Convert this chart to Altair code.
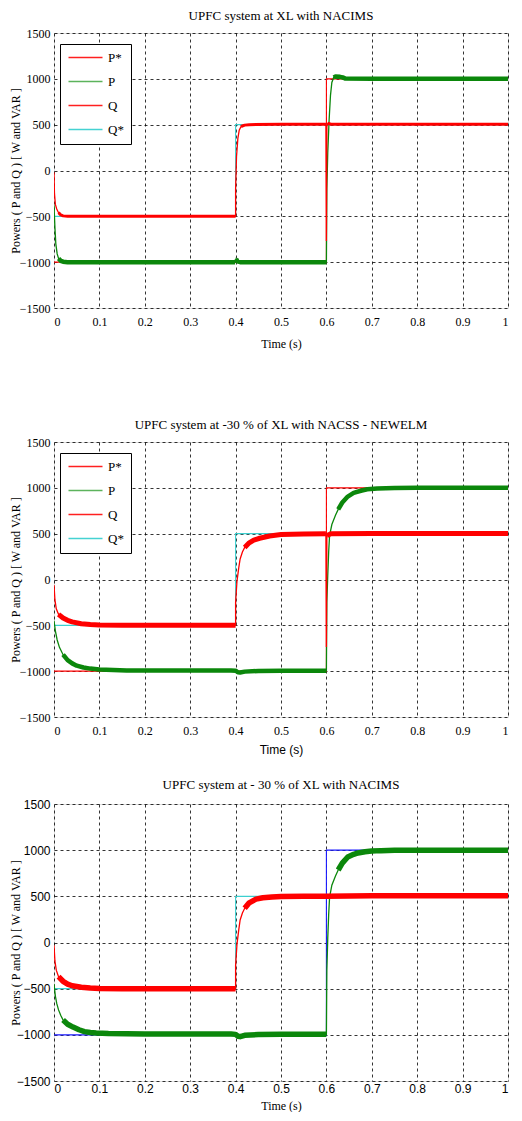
import altair as alt
import pandas as pd

# ---------------- data ----------------
X_TICKS = [0, 0.1, 0.2, 0.3, 0.4, 0.5, 0.6, 0.7, 0.8, 0.9, 1.0]
Y_TICKS = [-1500, -1000, -500, 0, 500, 1000, 1500]
SERIES = ["P*", "P", "Q", "Q*"]

TITLES = [
    "UPFC system at XL with NACIMS",
    "UPFC system at -30 % of XL with NACSS - NEWELM",
    "UPFC system at - 30 % of XL with NACIMS",
]
X_TITLE = "Time (s)"
Y_TITLE = "Powers ( P and Q ) [ W and VAR ]"

# reference steps (same in all panels)
PREF_T = [0, 0.6, 0.6, 1.0]
PREF_V = [-1000, -1000, 1000, 1000]
QREF_T = [0, 0.4, 0.4, 1.0]
QREF_V = [-500, -500, 500, 500]

# panel 1 : XL with NACIMS
P1_T = [0, 0.002, 0.004, 0.007, 0.01, 0.015, 0.02, 0.03, 0.1, 0.2, 0.3, 0.399, 0.401, 0.404, 0.41, 0.5,
        0.6, 0.601, 0.603, 0.606, 0.609, 0.612, 0.616, 0.62, 0.63, 0.636, 0.642, 0.7, 0.8, 0.9, 1.0]
P1_V = [-380, -620, -800, -910, -960, -985, -995, -1000, -1000, -1000, -1000, -1000, -965, -992, -1000, -1000,
        -1000, -200, 200, 550, 820, 960, 1015, 1025, 1022, 1015, 1003, 1000, 1000, 1000, 1000]
Q1_T = [0, 0.001, 0.003, 0.006, 0.01, 0.015, 0.02, 0.03, 0.1, 0.2, 0.3, 0.4, 0.4, 0.402, 0.405, 0.408,
        0.412, 0.42, 0.43, 0.5, 0.599, 0.6, 0.601, 0.603, 0.61, 0.7, 0.8, 0.9, 1.0]
Q1_V = [-20, -250, -370, -420, -460, -485, -495, -500, -500, -500, -500, -500, -200, 150, 350, 440,
        480, 495, 500, 505, 505, -770, 480, 515, 505, 505, 505, 505, 505]

# panel 2 : -30 % of XL with NACSS - NEWELM
P2_T = [0, 0.003, 0.007, 0.012, 0.02, 0.03, 0.04, 0.05, 0.065, 0.08, 0.1, 0.13, 0.16, 0.2, 0.3, 0.39,
        0.4, 0.405, 0.41, 0.42, 0.45, 0.5, 0.6, 0.601, 0.603, 0.605, 0.607, 0.612, 0.62, 0.626, 0.635,
        0.647, 0.66, 0.676, 0.69, 0.712, 0.75, 0.8, 0.9, 1.0]
P2_V = [-450, -560, -660, -740, -820, -880, -915, -940, -960, -972, -982, -988, -992, -993, -993, -993,
        -995, -1012, -1015, -1005, -998, -995, -995, -250, 50, 300, 480, 600, 700, 765, 840,
        905, 945, 968, 984, 993, 998, 1000, 1000, 1000]
Q2_T = [0, 0.002, 0.005, 0.01, 0.02, 0.03, 0.04, 0.06, 0.08, 0.1, 0.15, 0.2, 0.3, 0.4, 0.4, 0.403,
        0.407, 0.41, 0.415, 0.42, 0.43, 0.44, 0.453, 0.475, 0.5, 0.55, 0.599, 0.6, 0.601, 0.61, 0.7,
        0.8, 0.9, 1.0]
Q2_V = [-60, -220, -320, -380, -420, -445, -462, -482, -492, -497, -500, -500, -500, -500, -250, -20,
        130, 224, 300, 350, 400, 430, 450, 475, 490, 497, 500, -735, 480, 500, 503,
        503, 503, 503]

# panel 3 : -30 % of XL with NACIMS
P3_T = [0, 0.003, 0.006, 0.01, 0.015, 0.02, 0.03, 0.042, 0.055, 0.067, 0.08, 0.093, 0.12, 0.16, 0.2,
        0.3, 0.39, 0.4, 0.405, 0.41, 0.42, 0.45, 0.5, 0.6, 0.601, 0.603, 0.605, 0.607, 0.612, 0.62,
        0.626, 0.635, 0.647, 0.66, 0.67, 0.685, 0.7, 0.72, 0.75, 0.8, 0.9, 1.0]
P3_V = [-450, -580, -660, -730, -790, -840, -885, -916, -945, -965, -975, -980, -985, -988, -990,
        -992, -992, -995, -1015, -1020, -1005, -997, -995, -995, -300, 50, 300, 490, 620, 720,
        785, 860, 926, 955, 970, 982, 990, 995, 998, 1000, 1000, 1000]
Q3_T = [0, 0.002, 0.005, 0.01, 0.02, 0.03, 0.04, 0.06, 0.08, 0.1, 0.15, 0.2, 0.3, 0.4, 0.4, 0.403,
        0.407, 0.41, 0.415, 0.42, 0.43, 0.445, 0.46, 0.48, 0.5, 0.55, 0.6, 0.7, 0.8, 0.9, 1.0]
Q3_V = [-30, -200, -300, -370, -420, -450, -468, -485, -493, -497, -500, -500, -500, -500, -250, -20,
        140, 244, 320, 370, 430, 470, 485, 494, 498, 500, 502, 505, 505, 505, 505]

# ---------------- styles ----------------
RED = "#ff0000"
GREEN = "#0b870b"
CYAN = "#3ccfcf"
BLUE = "#1a1aff"
LEGEND_COLORS = ["#ff2020", "#5cb35c", "#ff2020", "#45d2d2"]
SERIF = "Liberation Serif"
SANS = "Liberation Sans"
PLOT_W = 454
SLOPE_LIMIT = 9000  # W/s : faster segments are drawn thin (transients)


def line_frame(t, v):
    return pd.DataFrame({"t": t, "v": v, "o": list(range(len(t)))})


def band_frame(t, v):
    """runs of slowly varying segments, drawn thick (noise band)"""
    rows, run = [], 0
    open_run = False
    for i in range(len(t) - 1):
        dt = t[i + 1] - t[i]
        slope = abs(v[i + 1] - v[i]) / dt if dt > 0 else 1e12
        if slope < SLOPE_LIMIT:
            if not open_run:
                run += 1
                rows.append({"t": t[i], "v": v[i], "o": i, "r": run})
                open_run = True
            rows.append({"t": t[i + 1], "v": v[i + 1], "o": i + 1, "r": run})
        else:
            open_run = False
    return pd.DataFrame(rows)


def enc(chart, st):
    x_axis = alt.Axis(values=X_TICKS, format="~g", title=X_TITLE, labelFont=st["xfont"], labelFontSize=12,
                      titleFont=st["xtfont"], titleFontSize=12, titleFontWeight="normal",
                      labelPadding=st["lpad"], titlePadding=st["tpad"], ticks=False, tickSize=0,
                      domain=False, labelFlush=True,
                      grid=True, gridColor="black", gridDash=[3, 3], gridWidth=0.8,
                      labelColor="black", titleColor="black")
    y_axis = alt.Axis(values=Y_TICKS, format="d", title=Y_TITLE, labelFont=st["yfont"], labelFontSize=12,
                      titleFont=SERIF, titleFontSize=12, titleFontWeight="normal",
                      labelPadding=4, titlePadding=2, minExtent=30, maxExtent=30,
                      ticks=False, tickSize=0, domain=False,
                      grid=True, gridColor="black", gridDash=[3, 3], gridWidth=0.8,
                      labelColor="black", titleColor="black")
    return chart.encode(
        x=alt.X("t:Q", scale=alt.Scale(domain=[0, 1], nice=False, zero=False), axis=x_axis),
        y=alt.Y("v:Q", scale=alt.Scale(domain=[-1500, 1500], nice=False, zero=False), axis=y_axis),
    )


def panel(idx, pt, pv, qt, qv, pref_color, p_band, q_band, legend, st, height):
    layers = []
    if legend:
        leg_df = pd.DataFrame({"t": [0.5] * 4, "v": [0] * 4, "series": SERIES})
        layers.append(
            enc(alt.Chart(leg_df).mark_line(clip=True), st).encode(
                color=alt.Color("series:N",
                                scale=alt.Scale(domain=SERIES, range=LEGEND_COLORS),
                                sort=SERIES,
                                legend=alt.Legend(orient="none", legendX=6, legendY=11, title=None,
                                                  symbolType="M-1,0H5.8", symbolSize=100,
                                                  symbolStrokeWidth=1.6, symbolOpacity=1,
                                                  labelOffset=28, labelFont=SERIF, labelFontSize=13,
                                                  labelColor="black", padding=7, rowPadding=10,
                                                  strokeColor="black", fillColor="white"))
            )
        )
    layers.append(enc(alt.Chart(line_frame(PREF_T, PREF_V)).mark_line(
        color=pref_color, strokeWidth=1.1, clip=True), st).encode(order="o:Q"))
    layers.append(enc(alt.Chart(line_frame(QREF_T, QREF_V)).mark_line(
        color=CYAN, strokeWidth=1.1, clip=True), st).encode(order="o:Q"))
    layers.append(enc(alt.Chart(line_frame(pt, pv)).mark_line(
        color=GREEN, strokeWidth=1.3, clip=True), st).encode(order="o:Q"))
    layers.append(enc(alt.Chart(band_frame(pt, pv)).mark_line(
        color=GREEN, strokeWidth=p_band, strokeCap="butt", strokeJoin="round", clip=True), st)
                  .encode(order="o:Q", detail="r:N"))
    layers.append(enc(alt.Chart(line_frame(qt, qv)).mark_line(
        color=RED, strokeWidth=1.3, clip=True), st).encode(order="o:Q"))
    layers.append(enc(alt.Chart(band_frame(qt, qv)).mark_line(
        color=RED, strokeWidth=q_band, strokeCap="butt", strokeJoin="round", clip=True), st)
                  .encode(order="o:Q", detail="r:N"))
    return alt.layer(*layers).properties(
        width=PLOT_W, height=height,
        title=alt.TitleParams(TITLES[idx], font=SERIF, fontSize=13, fontWeight="normal",
                              offset=st["toff"], anchor="middle", color="black", frame="group"),
    ).resolve_scale(color="independent")


ST1 = {"xfont": SERIF, "xtfont": SERIF, "yfont": SERIF, "lpad": 8, "tpad": 11, "toff": 4}
ST2 = {"xfont": SERIF, "xtfont": SANS, "yfont": SERIF, "lpad": 8, "tpad": 8, "toff": 4.5}
ST3 = {"xfont": SANS, "xtfont": SERIF, "yfont": SANS, "lpad": 2, "tpad": 6, "toff": 6}

p1 = panel(0, P1_T, P1_V, Q1_T, Q1_V, RED, 4.5, 3.0, True, ST1, 275)
p2 = panel(1, P2_T, P2_V, Q2_T, Q2_V, RED, 4.5, 5.0, True, ST2, 275)
p3 = panel(2, P3_T, P3_V, Q3_T, Q3_V, BLUE, 5.5, 5.5, False, ST3, 277)

spacer = alt.Chart(pd.DataFrame({"t": [0]})).mark_point(opacity=0).encode(
    x=alt.value(0), y=alt.value(0)
).properties(width=PLOT_W, height=19, view=alt.ViewBackground(stroke="transparent"))

chart = alt.vconcat(p1, spacer, p2, p3, spacing=22).resolve_scale(
    color="independent"
).resolve_legend(color="independent").properties(
    padding={"left": 0, "top": 1, "right": 0, "bottom": 0}
).configure_view(stroke="#222222", strokeWidth=1.3).configure(background="white")

chart.save("out.html", embed_options={"renderer": "svg", "actions": False})
